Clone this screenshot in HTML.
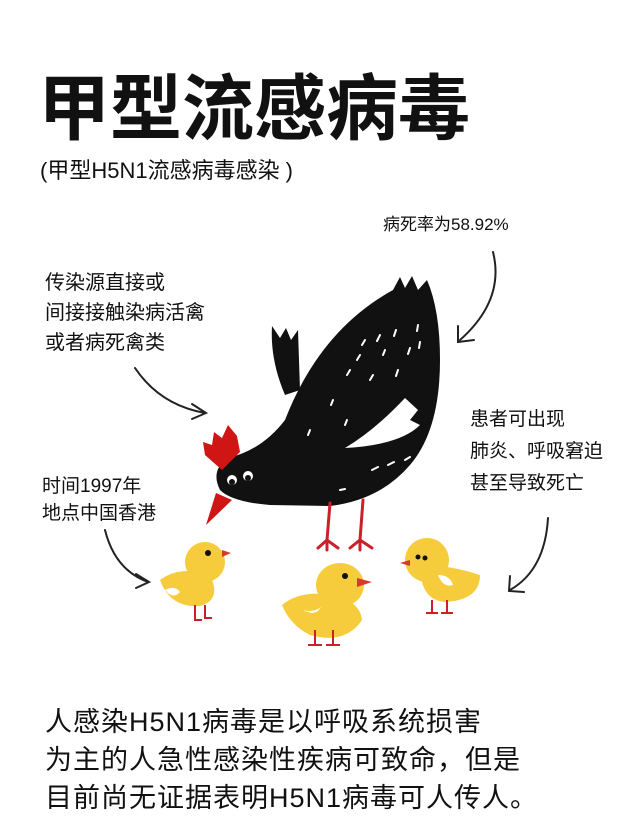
<!DOCTYPE html>
<html><head><meta charset="utf-8"><style>
body{margin:0;width:637px;height:824px;background:#fff;overflow:hidden;position:relative;font-family:"Liberation Sans","Noto Sans CJK SC",sans-serif;color:#111}
.t{position:absolute;white-space:nowrap;line-height:1}
</style></head><body>
<div class="t" style="left:38px;top:74px;font-size:72px;font-weight:bold">甲型流感病毒</div>
<div class="t" style="left:40px;top:160px;font-size:22px">(甲型H5N1流感病毒感染 )</div>
<div class="t" style="left:383px;top:216px;font-size:17px">病死率为58.92%</div>
<div class="t" style="left:45px;top:268px;font-size:20px;line-height:30px">传染源直接或<br>间接接触染病活禽<br>或者病死禽类</div>
<div class="t" style="left:470px;top:404px;font-size:19px;line-height:32px">患者可出现<br>肺炎、呼吸窘迫<br>甚至导致死亡</div>
<div class="t" style="left:42px;top:473px;font-size:19px;line-height:27px">时间1997年<br>地点中国香港</div>
<div class="t" style="left:45px;top:703px;font-size:27px;line-height:38px;letter-spacing:1px">人感染H5N1病毒是以呼吸系统损害<br>为主的人急性感染性疾病可致命，但是<br>目前尚无证据表明H5N1病毒可人传人。</div>
<svg width="637" height="824" style="position:absolute;left:0;top:0">
<g fill="none" stroke="#222" stroke-width="2" stroke-linecap="round">
<path d="M493 252 Q505 300 460 340"/><path d="M458 326 L458 342 L474 340"/>
<path d="M135 368 Q160 405 205 413"/><path d="M192 404 L206 413 L192 419"/>
<path d="M105 530 Q115 570 148 582"/><path d="M136 574 L149 582 L136 588"/>
<path d="M548 518 Q545 570 510 590"/><path d="M510 576 L509 591 L524 592"/>
</g>
<path d="M298 330 L291 340 L286 328 L280 338 L272 326 Q270 360 285 395 L300 390 Z" fill="#111"/>
<path d="M393 290 L400 277 L405 288 L412 276 L418 290 L427 280 Q440 310 440 360 Q440 430 410 465 Q380 500 330 506 L270 505 Q232 502 220 490 Q210 470 228 458 Q262 450 285 420 Q320 330 393 290 Z" fill="#111"/>
<path d="M345 448 Q375 430 405 398 L418 410 L410 420 L420 425 Q400 445 345 448 Z" fill="#fff"/>
<path d="M205 455 L203 442 L212 445 L214 432 L222 438 L228 425 L237 436 L240 452 L222 470 Z" fill="#d01515"/>
<path d="M216 493 L206 525 L232 500 Z" fill="#d01515"/>
<circle cx="232" cy="480" r="5" fill="#fff"/><circle cx="232" cy="482" r="3" fill="#111"/>
<circle cx="248" cy="476" r="5" fill="#fff"/><circle cx="248" cy="478" r="3" fill="#111"/>
<g stroke="#fff" stroke-width="2" stroke-linecap="round">
<path d="M365 340 l-3 5 M380 335 l-3 6 M396 330 l-2 6 M418 325 l-1 6 M360 355 l-3 5 M385 350 l-2 5 M410 348 l-2 6 M420 342 l-1 6 M350 370 l-3 5 M373 375 l-3 5 M398 370 l-2 6 M333 400 l-2 5 M310 430 l-2 5 M347 420 l-2 5 M372 470 l6 -3 M388 465 l6 -3 M405 460 l5 -3 M340 490 l5 -1"/>
</g>
<g stroke="#c9202a" stroke-width="3" fill="none" stroke-linecap="round">
<path d="M330 503 L327 540 M318 548 L327 540 L338 548 M327 540 L327 550"/>
<path d="M363 500 L360 540 M350 548 L360 540 L372 548 M360 540 L360 550"/>
</g>
<g fill="#f6cc3c">
<ellipse cx="205" cy="562" rx="20" ry="20"/><path d="M160 580 Q180 565 210 575 Q222 600 200 606 Q170 608 160 580Z"/>
<ellipse cx="340" cy="585" rx="24" ry="22"/><path d="M282 605 Q300 590 330 595 Q360 600 362 620 Q345 645 310 635 Q290 625 282 605Z"/>
<ellipse cx="427" cy="560" rx="22" ry="22"/><path d="M420 565 Q450 565 480 575 Q480 600 445 602 Q420 600 420 565Z"/>
</g>
<path d="M222 550 L231 553 L222 557Z M357 578 L372 582 L357 587Z M410 560 L400 563 L410 566Z" fill="#d83a2a"/>
<circle cx="208" cy="553" r="3" fill="#111"/><circle cx="345" cy="576" r="3" fill="#111"/><circle cx="418" cy="557" r="2.5" fill="#111"/><circle cx="425" cy="558" r="2.5" fill="#111"/>
<path d="M165 590 q10 -5 15 2 q-7 8 -15 -2Z M303 610 q10 3 18 -3 q-5 10 -18 3Z M438 575 q12 0 15 10 q-10 3 -15 -10Z" fill="#fff"/>
<g stroke="#c9202a" stroke-width="2" fill="none">
<path d="M195 605 L195 620 L202 620 M205 605 L205 618 L212 618"/>
<path d="M315 630 L315 645 M308 645 L322 645 M333 630 L333 645 M326 645 L340 645"/>
<path d="M432 600 L432 613 M426 613 L438 613 M447 600 L447 613 M441 613 L453 613"/>
</g>
</svg>
</body></html>
